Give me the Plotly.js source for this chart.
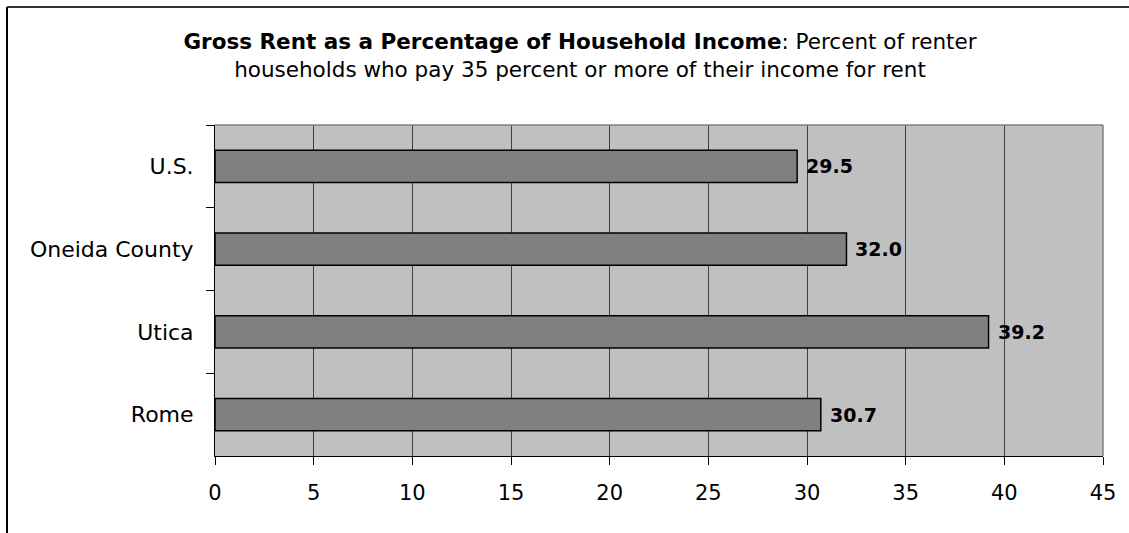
<!DOCTYPE html>
<html>
<head>
<meta charset="utf-8">
<script src="https://cdn.plot.ly/plotly-3.0.1.min.js"></script>
<style>
  html, body { margin: 0; padding: 0; background: #fff; }
  #chart { width: 1129px; height: 533px; }
</style>
</head>
<body>
<div id="chart"></div>
<script>
const categories = ["U.S.", "Oneida County", "Utica", "Rome"];
const values = [29.5, 32.0, 39.2, 30.7];
const xTicks = [0, 5, 10, 15, 20, 25, 30, 35, 40, 45];
const titleBold = "Gross Rent as a Percentage of Household Income";
const titleRest = ": Percent of renter";
const titleLine2 = "households who pay 35 percent or more of their income for rent";

const FONT = "DejaVu Sans, Liberation Sans, Arial, sans-serif";

const trace = {
  type: "bar",
  orientation: "h",
  y: categories,
  x: values,
  marker: { color: "#808080", line: { color: "#000000", width: 1.5 } },
  hoverinfo: "x+y",
  cliponaxis: false
};

const annotations = categories.map((c, i) => ({
  x: values[i], y: c, xref: "x", yref: "y",
  text: "<b>" + values[i].toFixed(1) + "</b>",
  showarrow: false, xanchor: "left", yanchor: "middle", xshift: 7,
  font: { family: FONT, size: 19, color: "#000" }
}));

const layout = {
  width: 1129, height: 533,
  margin: { l: 215, r: 26, t: 125, b: 77 },
  paper_bgcolor: "#ffffff",
  plot_bgcolor: "#c0c0c0",
  showlegend: false,
  bargap: 0.61,
  title: {
    text: "<b>" + titleBold + "</b>" + titleRest + "<br>" + titleLine2,
    font: { family: FONT, size: 21.5, color: "#000" },
    x: 580 / 1129, xref: "container", xanchor: "center",
    y: 1 - 49 / 533, yref: "container", yanchor: "middle"
  },
  xaxis: {
    range: [0, 45],
    tickvals: xTicks,
    ticktext: xTicks.map(String),
    showgrid: true, gridcolor: "#404040", gridwidth: 1,
    zeroline: false,
    showline: true, linecolor: "#000", linewidth: 1,
    ticks: "outside", ticklen: 8, tickcolor: "#000", tickwidth: 1,
    ticklabelstandoff: 10,
    tickfont: { family: FONT, size: 21, color: "#000" },
    fixedrange: true
  },
  yaxis: {
    type: "category",
    categoryorder: "array", categoryarray: categories,
    autorange: "reversed",
    showgrid: false, zeroline: false,
    showline: true, linecolor: "#000", linewidth: 1,
    ticks: "outside", ticklen: 8, tickcolor: "#000", tickwidth: 1,
    tickson: "boundaries",
    ticklabelstandoff: 16,
    tickfont: { family: FONT, size: 22, color: "#000" },
    fixedrange: true
  },
  annotations: annotations,
  shapes: [
    { type: "line", xref: "paper", yref: "paper", x0: 0, x1: 1, y0: 1, y1: 1, line: { color: "#808080", width: 1.5 }, layer: "above" },
    { type: "line", xref: "paper", yref: "paper", x0: 1, x1: 1, y0: 0, y1: 1, line: { color: "#808080", width: 1.5 }, layer: "above" },
    { type: "line", xref: "paper", yref: "paper", x0: (7 - 215) / 888, x1: 1.05, y0: (456 - 7) / 331, y1: (456 - 7) / 331, line: { color: "#333333", width: 2 } },
    { type: "line", xref: "paper", yref: "paper", x0: (7 - 215) / 888, x1: (7 - 215) / 888, y0: (456 - 7) / 331, y1: -0.3, line: { color: "#000000", width: 2 } }
  ]
};

Plotly.newPlot("chart", [trace], layout, { displayModeBar: false, staticPlot: true });
</script>
</body>
</html>
